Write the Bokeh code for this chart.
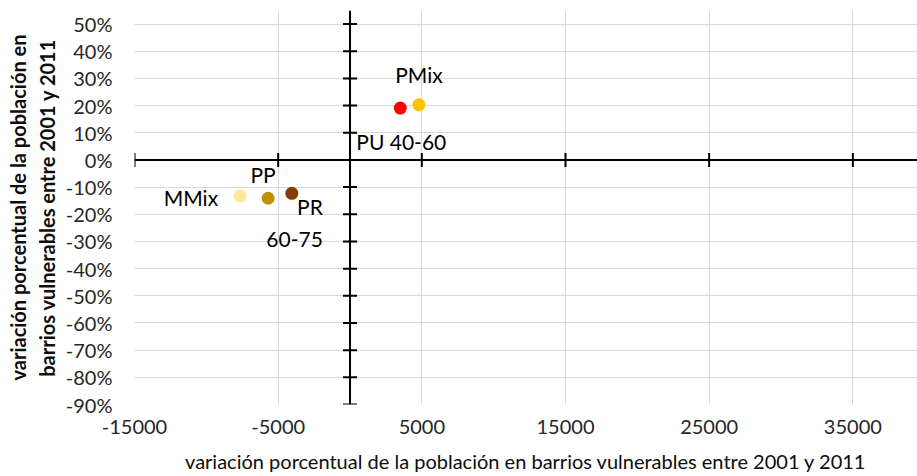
from math import pi
from bokeh.plotting import figure
from bokeh.models import Span, Label, FixedTicker, Range1d
from bokeh.embed import file_html
from bokeh.resources import INLINE

# ---- data ----
categories = ["PU 40-60", "PMix", "MMix", "PP", "PR\n60-75"]
x_values = [3500, 4800, -7650, -5700, -4050]          # población variation
y_values = [19.1, 20.3, -13.2, -14.1, -12.3]          # % variation
colors = ["#FF0000", "#FFC000", "#FFE699", "#BF9000", "#843C0C"]

x_ticks = [-15000, -5000, 5000, 15000, 25000, 35000]
x_tick_labels = ["-15000", "-5000", "5000", "15000", "25000", "35000"]
y_ticks = [-90, -80, -70, -60, -50, -40, -30, -20, -10, 0, 10, 20, 30, 40, 50]
y_tick_labels = ["-90%", "-80%", "-70%", "-60%", "-50%", "-40%", "-30%", "-20%",
                 "-10%", "0%", "10%", "20%", "30%", "40%", "50%"]

x_title = "variación porcentual de la población en barrios vulnerables entre 2001 y 2011"
y_title = "variación porcentual de la población en\nbarrios vulnerables entre 2001 y 2011"

# label placement (screen offsets, style only)
label_dx = [1, 0, -22, -5, 31]
label_dy = [-33, 30, -2, 24, -29]
label_align = ["center", "center", "right", "center", "right"]

FONT = "Lato"

p = figure(frame_width=783, frame_height=394, output_backend="svg", toolbar_location=None,
           x_range=Range1d(-15000, 39500), y_range=Range1d(-90, 55),
           min_border_left=134, min_border_right=0, min_border_top=10,
           min_border_bottom=60, background_fill_color="white",
           border_fill_color="white")
p.outline_line_color = None

# grid
p.xgrid.ticker = FixedTicker(ticks=x_ticks)
p.ygrid.ticker = FixedTicker(ticks=y_ticks)
for g in (p.xgrid, p.ygrid):
    g.grid_line_color = "#D9D9D9"
    g.grid_line_width = 1

# outer axes (labels only)
p.xaxis.ticker = FixedTicker(ticks=x_ticks)
p.xaxis.major_label_overrides = {t: l for t, l in zip(x_ticks, x_tick_labels)}
p.yaxis.ticker = FixedTicker(ticks=y_ticks)
p.yaxis.major_label_overrides = {t: l for t, l in zip(y_ticks, y_tick_labels)}
for ax in (p.xaxis, p.yaxis):
    ax.axis_line_color = None
    ax.major_tick_line_color = None
    ax.minor_tick_line_color = None
    ax.major_tick_out = 0
    ax.major_tick_in = 0
    ax.major_label_text_font = FONT
    ax.major_label_text_font_size = "20px"
    ax.major_label_text_color = "#262626"
    ax.axis_label_text_font = FONT
    ax.axis_label_text_color = "#0D0D0D"
p.xaxis.axis_label_text_font_size = "20px"
p.yaxis.axis_label_text_font_size = "20px"
p.xaxis.major_label_standoff = 15
p.yaxis.major_label_standoff = 22
p.xaxis.axis_label = x_title
p.yaxis.axis_label = y_title
p.xaxis.axis_label_standoff = 12
p.yaxis.axis_label_standoff = 4
p.xaxis.axis_label_text_font_style = "normal"
p.yaxis.axis_label_text_font_style = "bold"

# crossing axes at zero
p.add_layout(Span(location=0, dimension="width", line_color="black", line_width=2))
p.add_layout(Span(location=0, dimension="height", line_color="black", line_width=2))
p.scatter(x=x_ticks, y=[0] * len(x_ticks), marker="dash", size=14, angle=pi / 2,
          line_color="black", line_width=2)
p.scatter(x=[0] * len(y_ticks), y=y_ticks, marker="dash", size=14,
          line_color="black", line_width=2)

# points
p.scatter(x=x_values, y=y_values, size=13, fill_color=colors, line_color=None)

# labels
for i, name in enumerate(categories):
    p.add_layout(Label(x=x_values[i], y=y_values[i], text=name,
                       x_offset=label_dx[i], y_offset=label_dy[i],
                       text_align=label_align[i], text_baseline="middle",
                       text_font=FONT, text_font_size="21px", text_color="black",
                       text_line_height=1.3))

open("out.html", "w").write(file_html(p, INLINE))
